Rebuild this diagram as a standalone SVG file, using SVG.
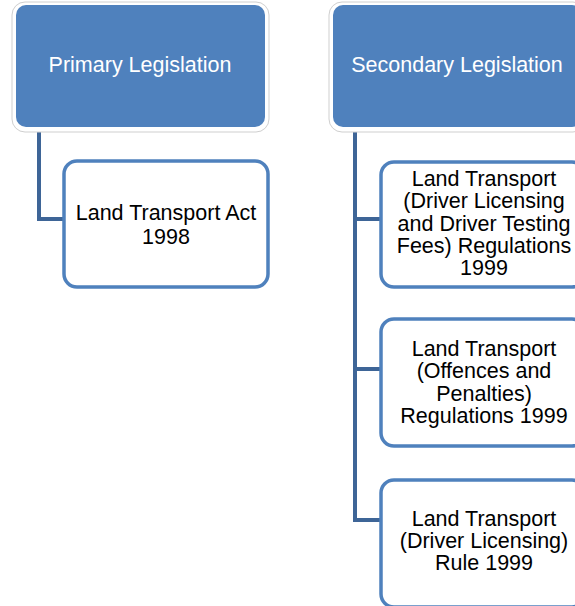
<svg xmlns="http://www.w3.org/2000/svg" width="575" height="606" viewBox="0 0 575 606">
<style>
.outer{fill:#ffffff;stroke:#cfcfcf;stroke-width:1}
.head{fill:#4f81bd}
.child{fill:#ffffff;stroke:#4f81bd;stroke-width:3.5}
.conn{fill:none;stroke:#3e6597;stroke-width:4;stroke-linejoin:miter}
.ht{font-family:"Liberation Sans",Arial,sans-serif;font-size:21.5px;fill:#ffffff;text-anchor:middle}
.ct{font-family:"Liberation Sans",Arial,sans-serif;font-size:21.5px;fill:#000000;text-anchor:middle}
</style>
<rect width="575" height="606" fill="#ffffff"/>
<g id="connectors">
<path class="conn" d="M39,130 V219 H63"/>
<path class="conn" d="M355,130 V520 H380 M355,219 H380 M355,369 H380"/>
</g>
<g id="primary">
<rect class="outer" x="12" y="2" width="257" height="130" rx="13"/>
<rect class="head" x="16" y="5" width="249" height="122" rx="10"/>
<text class="ht" x="140" y="72">Primary Legislation</text>
</g>
<g id="secondary">
<rect class="outer" x="329" y="2" width="257" height="130" rx="13"/>
<rect class="head" x="333" y="5" width="249" height="122" rx="10"/>
<text class="ht" x="457" y="72">Secondary Legislation</text>
</g>
<g id="lta">
<rect class="child" x="64" y="161" width="204" height="126" rx="13"/>
<text class="ct" x="166" y="220">Land Transport Act</text>
<text class="ct" x="166" y="244">1998</text>
</g>
<g id="fees">
<rect class="child" x="381" y="162" width="204" height="125" rx="13"/>
<text class="ct" x="484" y="186">Land Transport</text>
<text class="ct" x="484" y="208">(Driver Licensing</text>
<text class="ct" x="484" y="231">and Driver Testing</text>
<text class="ct" x="484" y="253">Fees) Regulations</text>
<text class="ct" x="484" y="275">1999</text>
</g>
<g id="offences">
<rect class="child" x="381" y="319" width="204" height="127" rx="13"/>
<text class="ct" x="484" y="356">Land Transport</text>
<text class="ct" x="484" y="378">(Offences and</text>
<text class="ct" x="484" y="401">Penalties)</text>
<text class="ct" x="484" y="423">Regulations 1999</text>
</g>
<g id="rule">
<rect class="child" x="381" y="480" width="204" height="127" rx="13"/>
<text class="ct" x="484" y="526">Land Transport</text>
<text class="ct" x="484" y="548">(Driver Licensing)</text>
<text class="ct" x="484" y="570">Rule 1999</text>
</g>
</svg>
